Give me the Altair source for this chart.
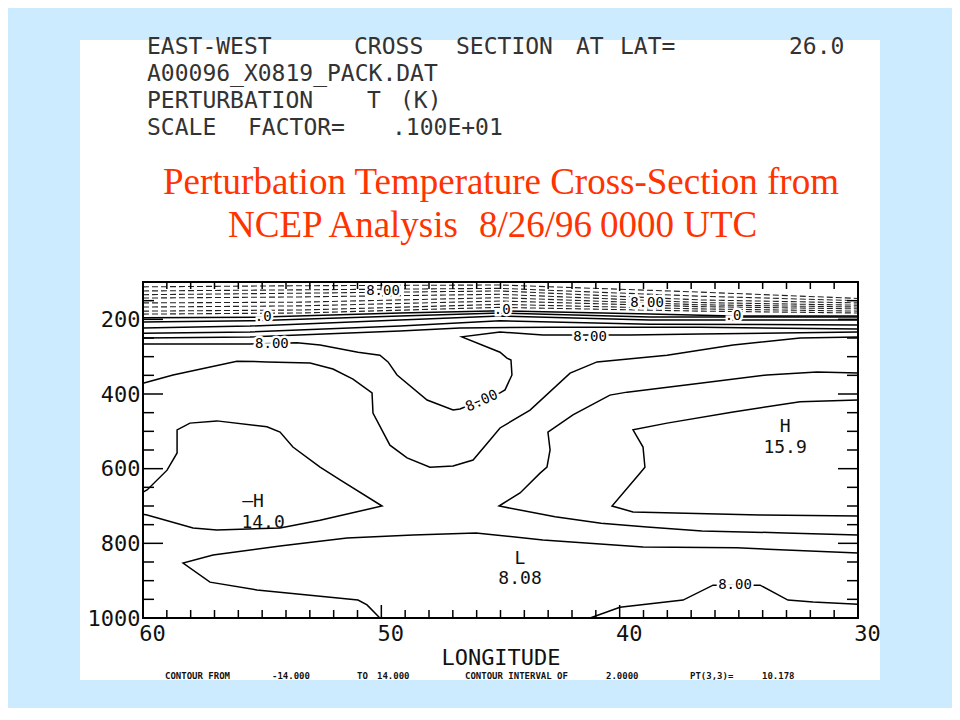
import altair as alt
import pandas as pd

# ---------------- contour lines (longitude deg E-W, pressure hPa) ----------------
L1_lon = [60.00, 55.51, 53.54, 52.57, 50.98, 50.06, 49.72, 49.34, 48.08, 46.99, 46.70, 45.02, 44.81, 44.52,
          44.56, 44.73, 45.02, 46.62, 45.02, 43.22, 39.57, 36.63, 30.00]
L1_p = [266, 266, 263, 269, 288, 296, 314, 349, 416, 443, 440, 397, 389, 349, 309, 304, 288, 247, 234, 242,
        242, 239, 234]

L2_lon = [60.00, 58.74, 56.06, 54.80, 52.99, 52.03, 51.19, 50.39, 50.35, 49.64, 48.92, 47.96, 46.99, 46.15,
          45.44, 45.02, 43.76, 42.08, 40.95, 38.01, 35.24, 32.43, 30.00]
L2_p = [371, 349, 312, 314, 317, 333, 360, 397, 451, 537, 571, 596, 593, 577, 523, 491, 443, 344, 314, 296,
        269, 250, 247]

L3_lon = [60.00, 59.83, 58.99, 58.57, 58.57, 58.03, 56.90, 54.80, 54.25, 53.71, 52.57, 51.73, 49.97, 52.57,
          54.25, 56.90, 57.90, 59.83, 60.00]
L3_p = [663, 657, 604, 558, 496, 478, 472, 488, 502, 542, 596, 630, 700, 738, 759, 764, 759, 724, 722]

L4_lon = [50.06, 50.60, 50.98, 55.22, 57.19, 58.32, 57.06, 54.25, 51.44, 48.67, 46.03, 43.22, 39.02, 35.08, 30.00]
L4_p = [1000, 965, 952, 925, 904, 853, 831, 807, 786, 778, 772, 791, 810, 812, 826]

L5_lon = [41.24, 39.99, 37.34, 36.08, 34.11, 32.94, 31.89, 30.00]
L5_p = [1000, 971, 952, 912, 912, 952, 957, 963]

L6_lon = [30.00, 31.72, 33.82, 36.63, 39.69, 40.41, 41.96, 43.01, 42.92, 43.05, 43.34, 44.18, 45.06, 42.71,
          40.78, 38.85, 36.55, 33.06, 30.00]
L6_p = [344, 341, 349, 371, 395, 403, 456, 502, 550, 596, 612, 665, 700, 729, 746, 756, 767, 772, 778]

L7_lon = [30.00, 32.43, 35.24, 38.01, 39.44, 39.02, 38.94, 39.15, 40.32, 39.44, 34.11, 30.00]
L7_p = [416, 421, 448, 478, 496, 542, 596, 612, 700, 716, 724, 727]

# upper band, solid contours
SA_lon = [60.00, 55.51, 49.22, 46.70, 42.92, 36.63, 30.00]
SA_p = [250, 247, 231, 223, 221, 221, 226]
SB_lon = [60.00, 55.51, 49.22, 45.02, 38.73, 30.00]
SB_p = [237, 234, 218, 204, 213, 215]
SC_p = [223, 218, 202, 191, 202, 202]
SD_p = [207, 204, 191, 183, 194, 194]
S0_lon = [60.00, 54.96, 49.22, 44.93, 38.73, 35.24, 30.00]
S0_p = [196, 194, 183, 177, 186, 191, 191]

# upper band, dashed (negative) contours
D_lon = [60.00, 53.41, 45.02, 36.63, 30.00]
D1_p = [186, 183, 168, 178, 183]
D2_p = [178, 175, 160, 172, 178]
D3_p = [167, 164, 151, 166, 172]
D4_p = [156, 154, 142, 161, 167]
D5_p = [143, 140, 133, 155, 162]
D6_p = [134, 130, 124, 148, 156]
D7_p = [124, 121, 117, 138, 150]
D8_p = [113, 110, 108, 127, 144]

# contour labels
LAB_txt = ["8.00", "8.00", "8.00", "8.00", ".0", ".0", ".0", "8.00"]
LAB_lon = [54.59, 41.24, 49.93, 38.85, 54.96, 44.93, 35.24, 35.16]
LAB_p = [266, 247, 124, 156, 194, 175, 191, 912]
ROT_txt = ["8.00"]
ROT_lon = [45.78]
ROT_p = [419]
EXT_txt = ["H", "15.9", "L", "8.08", "\u2014H", "14.0"]
EXT_lon = [33.06, 33.06, 44.18, 44.18, 55.38, 54.96]
EXT_p = [489, 545, 843, 896, 690, 745]

# axes
X_LABELS = [60, 50, 40, 30]
Y_LABELS = [200, 400, 600, 800, 1000]
X_MAJOR = [50, 40]
X_MINOR = [v for v in range(31, 60) if v not in (40, 50)]
Y_MAJOR = [200, 400, 600, 800]
Y_MINOR = [v for v in range(150, 1000, 50) if v not in (200, 400, 600, 800)]

HEADER = [
    ["EAST-WEST", "CROSS", "SECTION", "AT", "LAT=", "26.0"],
    ["A00096_X0819_PACK.DAT"],
    ["PERTURBATION", "T", "(K)"],
    ["SCALE", "FACTOR=", ".100E+01"],
]
HEADER_X = [[147, 354, 456, 576, 620, 789], [147], [147, 367, 400], [147, 248, 392]]
HEADER_Y = [47, 74, 101, 128]
TITLE = [["Perturbation Temperature Cross-Section from"], ["NCEP Analysis", "8/26/96", "0000 UTC"]]
TITLE_X = [[163], [228, 479, 600]]
TITLE_Y = [183, 226]
FOOT = ["CONTOUR FROM", "-14.000", "TO", "14.000", "CONTOUR INTERVAL OF", "2.0000", "PT(3,3)=", "10.178"]
FOOT_X = [165, 272, 357, 377, 465, 606, 690, 762]

# ---------------- layout ----------------
W, H = 715, 336
OX, OY = 143, 282  # page position of the plot origin
MONO = "DejaVu Sans Mono"

rows = []
solid = {"L1": (L1_lon, L1_p), "L2": (L2_lon, L2_p), "L3": (L3_lon, L3_p), "L4": (L4_lon, L4_p),
         "L5": (L5_lon, L5_p), "L6": (L6_lon, L6_p), "L7": (L7_lon, L7_p), "SA": (SA_lon, SA_p),
         "SB": (SB_lon, SB_p), "SC": (SB_lon, SC_p), "SD": (SB_lon, SD_p), "S0": (S0_lon, S0_p)}
for k, (lo, pp) in solid.items():
    for i, (a, b) in enumerate(zip(lo, pp)):
        rows.append({"line": k, "i": i, "lon": a, "p": b})
solid_df = pd.DataFrame(rows)

rows = []
for k, pp in {"D1": D1_p, "D2": D2_p, "D3": D3_p, "D4": D4_p, "D5": D5_p, "D6": D6_p, "D7": D7_p,
              "D8": D8_p}.items():
    for i, (a, b) in enumerate(zip(D_lon, pp)):
        rows.append({"line": k, "i": i, "lon": a, "p": b})
dash_df = pd.DataFrame(rows)

xs = alt.Scale(domain=[30, 60], reverse=True, nice=False, zero=False)
ys = alt.Scale(domain=[100, 1000], reverse=True, nice=False, zero=False)
x_enc = alt.X("lon:Q", scale=xs,
              axis=alt.Axis(values=X_LABELS, title=None, grid=False, domain=False, ticks=False, tickSize=0,
                            labelFont=MONO, labelFontSize=22, labelColor="#111", labelPadding=5,
                            labelOffset=9, labelFlush=False, labelOverlap=False, format="d", zindex=2))
y_enc = alt.Y("p:Q", scale=ys,
              axis=alt.Axis(values=Y_LABELS, title=None, grid=False, domain=False, ticks=False, tickSize=0,
                            labelFont=MONO, labelFontSize=22, labelColor="#111", labelPadding=3,
                            labelFlush=False, labelOverlap=False, format="d", zindex=2))

layers = []

# white panel
layers.append(alt.Chart(pd.DataFrame({"a": [0]})).mark_rect(color="white").encode(
    x=alt.value(80 - OX), x2=alt.value(880 - OX), y=alt.value(40 - OY), y2=alt.value(680 - OY)))

layers.append(alt.Chart(solid_df).mark_line(color="black", strokeWidth=1.5).encode(
    x=x_enc, y=y_enc, detail="line:N", order="i:Q"))
layers.append(alt.Chart(dash_df).mark_line(color="#222", strokeWidth=1.1, strokeDash=[6, 3]).encode(
    x=x_enc, y=y_enc, detail="line:N", order="i:Q"))

# ticks
def xticks(vals, length, top):
    d = pd.DataFrame({"lon": vals})
    if top:
        return alt.Chart(d).mark_rule(color="black", strokeWidth=1.5).encode(
            x=x_enc, y=alt.value(0), y2=alt.value(length))
    return alt.Chart(d).mark_rule(color="black", strokeWidth=1.5).encode(
        x=x_enc, y=alt.value(H), y2=alt.value(H - length))

def yticks(vals, length, right):
    d = pd.DataFrame({"p": vals})
    if right:
        return alt.Chart(d).mark_rule(color="black", strokeWidth=1.5).encode(
            y=y_enc, x=alt.value(W), x2=alt.value(W - length))
    return alt.Chart(d).mark_rule(color="black", strokeWidth=1.5).encode(
        y=y_enc, x=alt.value(0), x2=alt.value(length))

layers += [xticks(X_MINOR, 8, False), xticks(X_MAJOR, 13, False), xticks(X_MINOR, 7, True),
           xticks(X_MAJOR, 9, True), yticks(Y_MINOR, 11, False), yticks(Y_MAJOR, 20, False),
           yticks(Y_MINOR, 11, True), yticks(Y_MAJOR, 20, True)]

# contour labels with a white halo that breaks the lines
lab_df = pd.DataFrame({"lon": LAB_lon, "p": LAB_p, "txt": LAB_txt})
for stroke in (True, False):
    kw = dict(font=MONO, fontSize=14, align="center", baseline="middle")
    if stroke:
        kw.update(stroke="white", strokeWidth=5, color="white")
    else:
        kw.update(color="black")
    layers.append(alt.Chart(lab_df).mark_text(**kw).encode(x=x_enc, y=y_enc, text="txt:N"))
rot_df = pd.DataFrame({"lon": ROT_lon, "p": ROT_p, "txt": ROT_txt})
layers.append(alt.Chart(rot_df).mark_text(font=MONO, fontSize=14, angle=335, stroke="white", strokeWidth=5,
                                          color="white").encode(x=x_enc, y=y_enc, text="txt:N"))
layers.append(alt.Chart(rot_df).mark_text(font=MONO, fontSize=14, angle=335, color="black").encode(
    x=x_enc, y=y_enc, text="txt:N"))
ext_df = pd.DataFrame({"lon": EXT_lon, "p": EXT_p, "txt": EXT_txt})
layers.append(alt.Chart(ext_df).mark_text(font=MONO, fontSize=18, color="#111", align="center",
                                          baseline="middle").encode(x=x_enc, y=y_enc, text="txt:N"))

# plot frame
layers.append(alt.Chart(pd.DataFrame({"a": [0]})).mark_rect(filled=False, stroke="black", strokeWidth=2).encode(
    x=alt.value(0), x2=alt.value(W), y=alt.value(0), y2=alt.value(H)))

one = pd.DataFrame({"a": [0]})

def txt(s, px, py, **kw):
    return alt.Chart(one).mark_text(**kw).encode(x=alt.value(px - OX), y=alt.value(py - OY),
                                                  text=alt.value(s))

for words, xs_, yy in zip(HEADER, HEADER_X, HEADER_Y):
    for w, xx in zip(words, xs_):
        layers.append(txt(w, xx, yy, font=MONO, fontSize=23, color="#333", align="left",
                          baseline="middle"))
for words, xs_, yy in zip(TITLE, TITLE_X, TITLE_Y):
    for w, xx in zip(words, xs_):
        layers.append(txt(w, xx, yy, font="Liberation Serif", fontSize=37, color="#FF3300",
                          align="left", baseline="middle"))
layers.append(txt("LONGITUDE", 501, 658, font=MONO, fontSize=22, color="#111", align="center",
                  baseline="middle"))
for s, xx in zip(FOOT, FOOT_X):
    layers.append(txt(s, xx, 676, font=MONO, fontSize=9, fontWeight="bold", color="#111", align="left",
                      baseline="middle"))

chart = alt.layer(*layers).properties(
    width=W, height=H,
    autosize=alt.AutoSizeParams(type="none"),
    padding={"left": OX - 8, "top": OY - 8, "right": 94, "bottom": 90},
).configure(background="#CCEBFF").configure_view(stroke=None)

chart.save("out.html", embed_options={"renderer": "svg", "actions": False})
